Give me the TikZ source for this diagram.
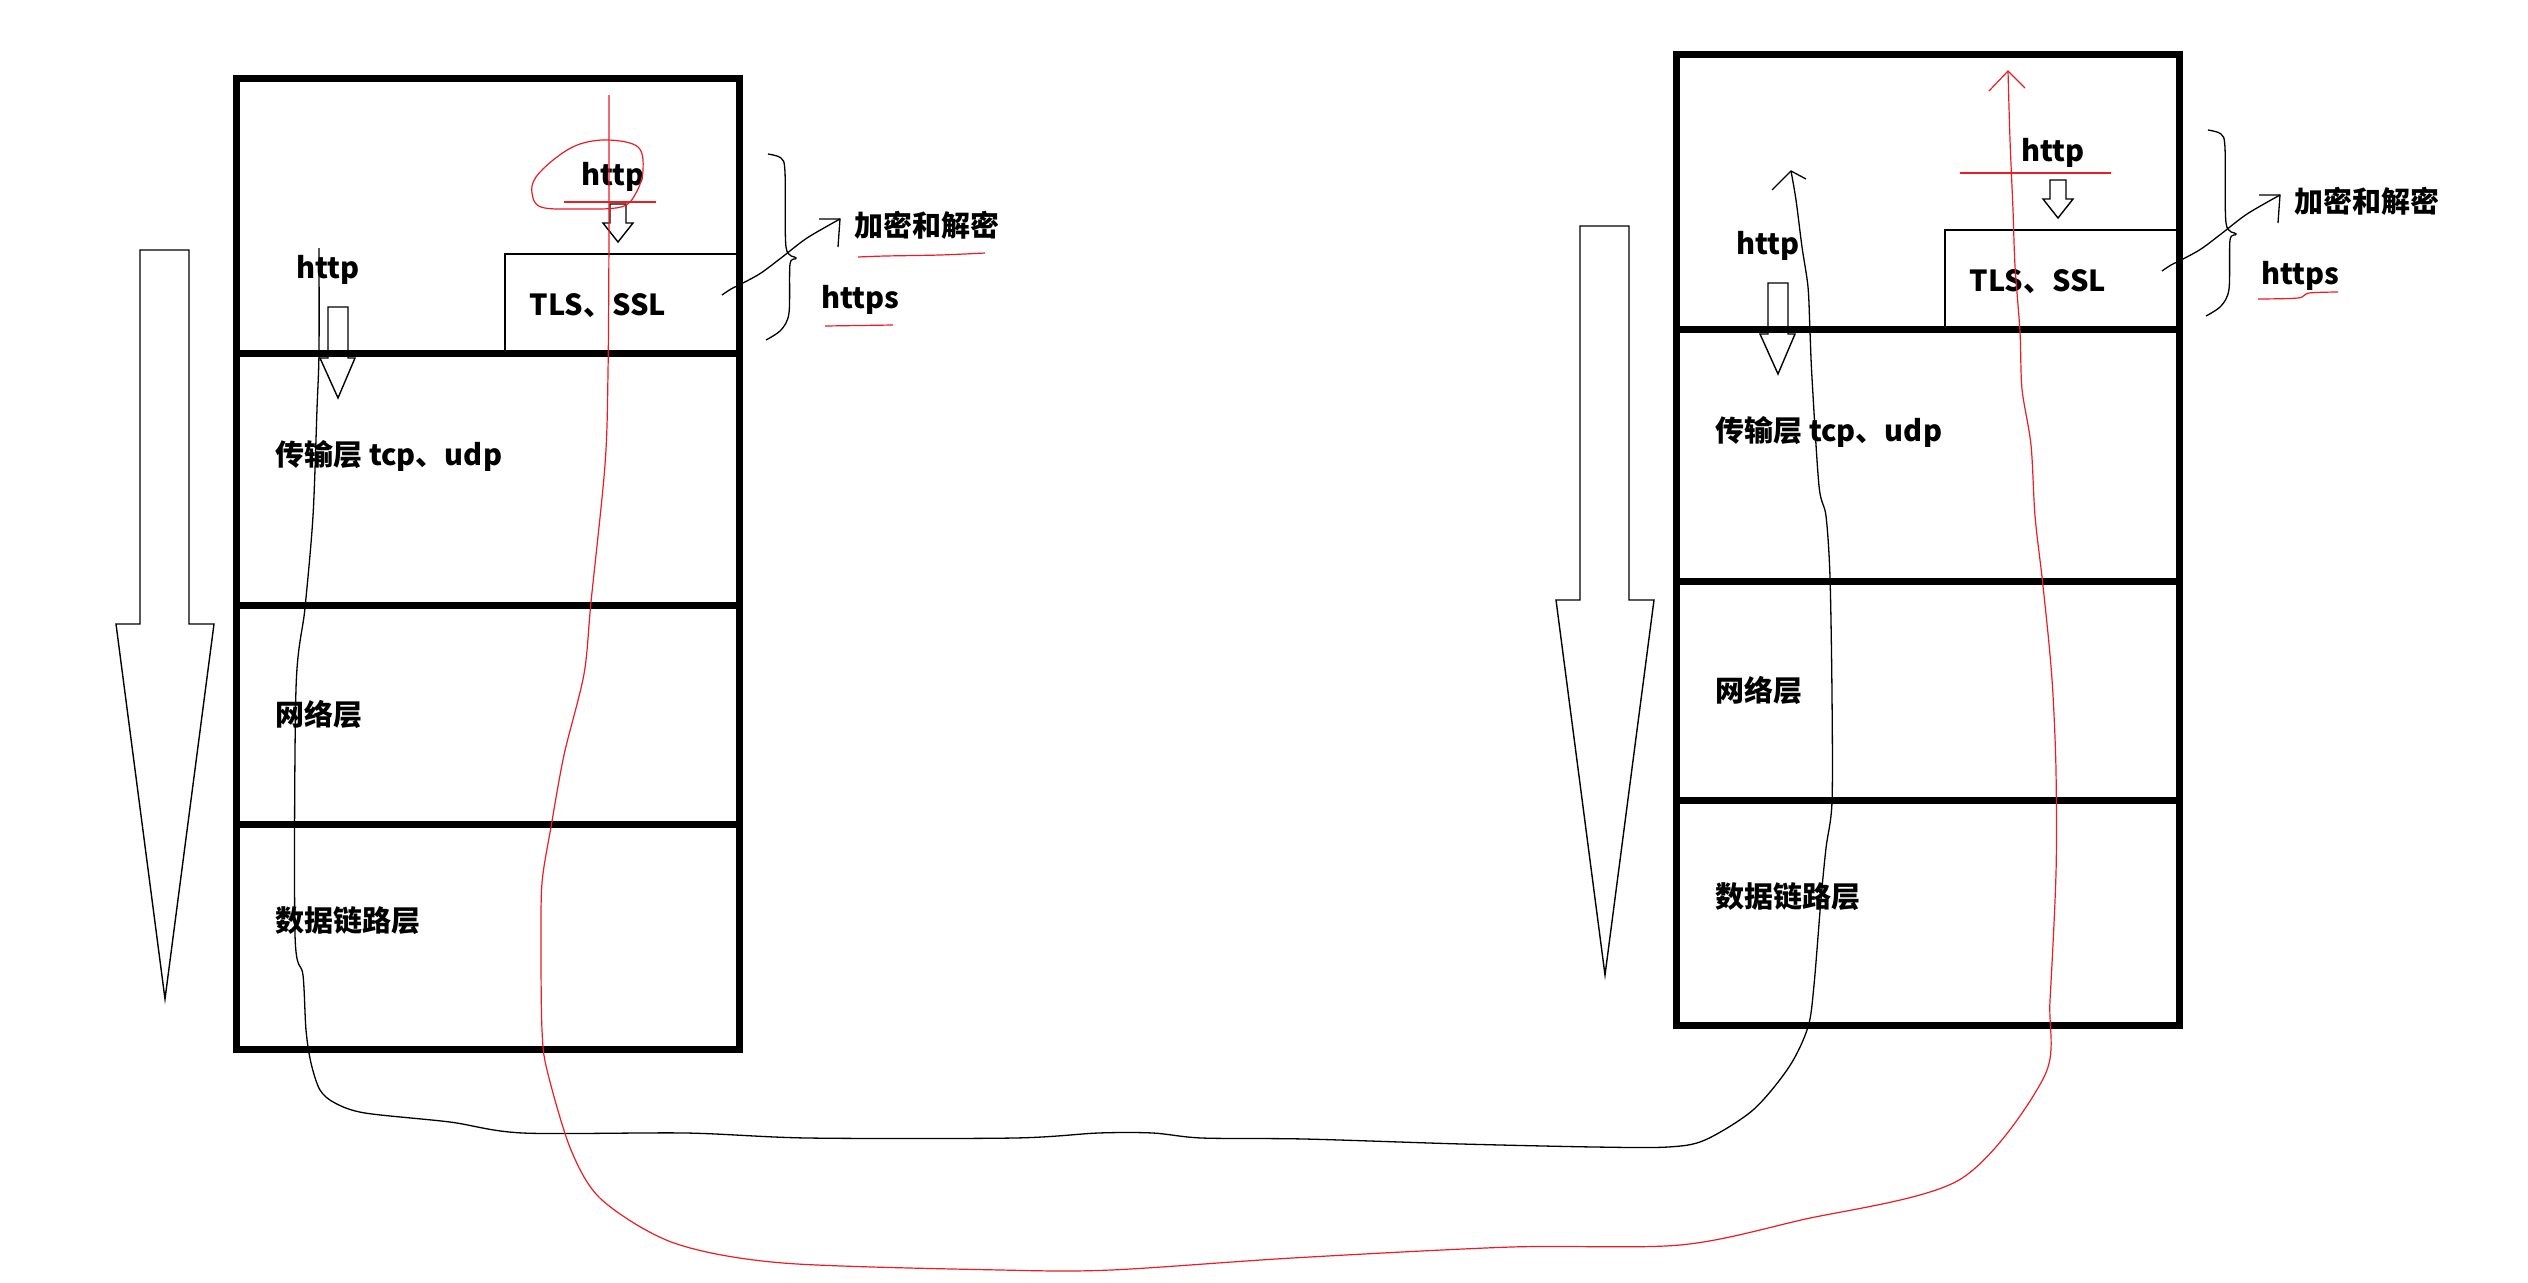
\documentclass[tikz,border=0pt]{standalone}
\usepackage{fontspec}
\setmainfont{Noto Sans CJK SC}
\definecolor{pred}{RGB}{237,28,36}
\newcommand\drawstack[1]{%
  % layer boxes
  \draw[boxline] (236,78) rectangle (739,1049);
  \draw[boxline] (236,353) -- (739,353);
  \draw[boxline] (236,605) -- (739,605);
  \draw[boxline] (236,824) -- (739,824);
  \draw[thinbox] (505,350) |- (736,254);
  % big downward arrow
  \draw[outl] (140,250) -- (189,250) -- (189,624) -- (214,624) -- (165,999) -- (116,624) -- (140,624) -- cycle;
  % small arrows
  \draw[outl] (610,204) -- (626,204) -- (626,223) -- (633,223) -- (618,242) -- (603,223) -- (610,223) -- cycle;
  \draw[outl] (328,307) -- (348,307) -- (348,358) -- (355,358) -- (338,398) -- (320,358) -- (328,358) -- cycle;
  % texts
  \node[lbl] (#1httpa) at (613,177) {http};
  \node[lbl] (#1httpb) at (328,270) {http};
  \node[lbl] (#1tls) at (598,306) {TLS、SSL};
  \node[lbl,anchor=west] (#1trans) at (275,456) {传输层 tcp、udp};
  \node[lbl,anchor=west] (#1net) at (275,714) {网络层};
  \node[lbl,anchor=west] (#1link) at (275,921) {数据链路层};
  \node[lbl,anchor=west] (#1enc) at (854,225) {加密和解密};
  \node[lbl,anchor=west] (#1https) at (821,300) {https};
  % brace
  \draw[sketch] plot[smooth,tension=0.5] coordinates {(768,154) (781,158) (785,172) (786,247) (796,258) (790,264) (789,313) (781,330) (766,340)};
  % arrow to the encryption label
  \coordinate (#1encend) at (840,219);
  \draw[sketch] plot[smooth,tension=0.5] coordinates {(722,295) (731,289) (743,283) (761,273) (781,258) (807,238) (#1encend)};
  \draw[sketch] (819,219) -- (#1encend) -- (838,247);
}
\begin{document}
\begin{tikzpicture}[x=0.5pt,y=-0.5pt,
  lbl/.style={font=\fontsize{14.5}{17}\selectfont\bfseries, inner sep=0pt},
  boxline/.style={line width=3.5pt, line join=miter},
  thinbox/.style={line width=0.75pt},
  outl/.style={line width=0.7pt, line join=miter},
  sketch/.style={line width=0.65pt},
  redl/.style={draw=pred, line width=0.6pt}]
\useasboundingbox[fill=white] (0,0) rectangle (2528,1282);

\drawstack{L}
\begin{scope}[shift={(1440,-24)}]
\drawstack{R}
\end{scope}

% left red marks
\draw[redl] plot[smooth cycle,tension=0.6] coordinates {(609,140) (638,147) (643,170) (636,193) (621,207) (577,209) (541,207) (532,193) (536,177) (557,157) (580,144)};
\draw[redl] (564,202) -- (656,202);
\draw[redl] plot[smooth] coordinates {(858,257) (885,256) (940,255) (985,253)};
\draw[redl] (825,326) -- (893,325);
% right red marks
\draw[redl] (1960,173) -- (2111,173);
\draw[redl] plot[smooth,tension=0.5] coordinates {(2258,299) (2298,298) (2309,293) (2338,292)};

% black path
\coordinate (bstart) at (319,248);
\coordinate (bend) at (1791,171);
\draw[sketch] plot[smooth,tension=0.5] coordinates {(bstart) (319,352) (317,409) (313,516) (305,608) (296,689) (295,934) (303,975) (306,1030) (311,1063) (320,1090) (335,1103) (365,1113) (450,1122) (523,1133) (686,1133) (808,1138) (1014,1138) (1098,1133) (1153,1133) (1202,1138) (1305,1139) (1462,1144) (1595,1147) (1668,1147) (1705,1140) (1753,1110) (1789,1067) (1808,1027) (1814,985) (1821,899) (1826,848) (1832,802) (1832,695) (1830,577) (1826,516) (1819,486) (1812,378) (1810,332) (1808,287) (1802,247) (1796,200) (bend)};
\draw[sketch] (1772,190) -- (bend) -- (1806,179);

% red path
\coordinate (rstart) at (609,95);
\coordinate (rend) at (2008,71);
\draw[redl] plot[smooth,tension=0.5] coordinates {(rstart) (609,230) (608,373) (605,465) (591,602) (584,674) (564,755) (551,827) (542,883) (541,950) (542,1030) (547,1070) (571,1150) (602,1200) (674,1243) (783,1263) (1001,1270) (1111,1270) (1292,1258) (1511,1247) (1680,1245) (1801,1220) (1959,1180) (2044,1077) (2050,1000) (2056,873) (2056,771) (2053,695) (2049,644) (2042,577) (2035,516) (2031,445) (2022,389) (2020,332) (2015,266) (2013,210) (2010,140) (rend)};
\draw[redl] (1989,91) -- (rend) -- (2025,88);
\end{tikzpicture}
\end{document}
